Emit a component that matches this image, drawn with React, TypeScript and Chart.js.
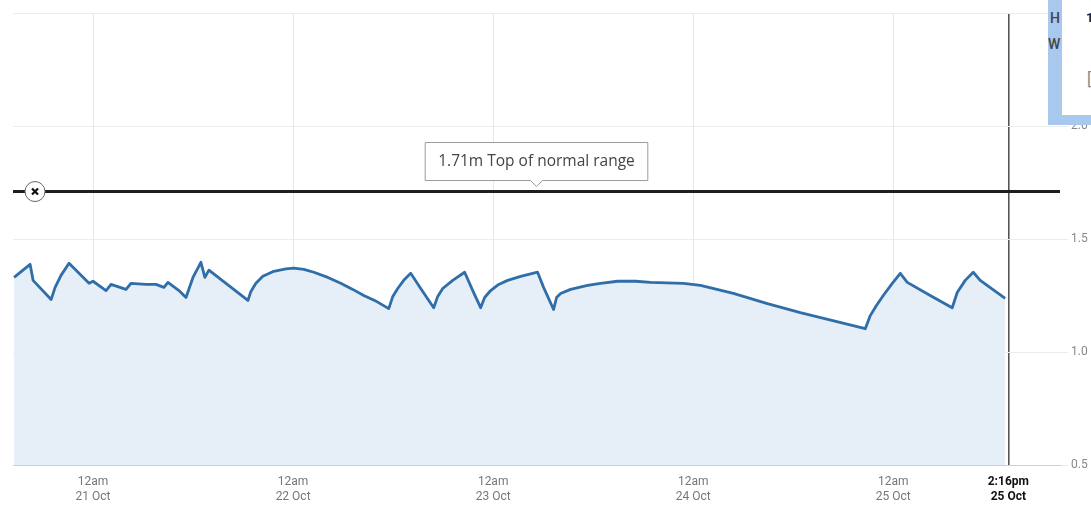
import React, { useEffect, useRef } from "react";
import { Chart, registerables } from "chart.js";

Chart.register(...registerables);

// Hours since 12am 20 Oct
const levelHours: number[] = [
  14.53, 16.45, 16.81, 18.97, 19.45, 20.16, 21.12, 23.52, 24.0, 25.56, 26.16, 27.96,
  28.55, 30.35, 31.55, 32.51, 32.99, 34.31, 35.15, 35.99, 36.94, 37.42, 37.9,
  42.58, 42.94, 43.54, 44.37, 45.69, 47.13, 48.09, 49.29, 50.49, 52.17, 53.72, 55.16,
  56.48, 58.04, 59.48, 59.96, 60.55, 61.27, 62.11, 63.31, 64.87, 65.35, 65.95, 67.15,
  68.58, 69.66, 70.5, 70.98, 71.7, 72.66, 73.74, 75.3, 77.33, 78.05, 79.25, 79.61,
  80.09, 81.29, 83.33, 84.88, 86.92, 89.08, 90.88, 94.83, 96.87, 100.82, 104.9, 108.85,
  116.64, 117.24, 117.96, 118.8, 119.88, 120.84, 121.68, 124.43, 127.07, 127.67, 128.63,
  129.59, 130.43, 133.42,
];
// River level (m)
const levelMetres: number[] = [
  1.33, 1.388, 1.317, 1.232, 1.286, 1.339, 1.393, 1.304, 1.313, 1.272, 1.299, 1.277,
  1.304, 1.299, 1.299, 1.286, 1.308, 1.272, 1.241, 1.33, 1.397, 1.33, 1.362,
  1.228, 1.268, 1.304, 1.335, 1.357, 1.368, 1.371, 1.366, 1.353, 1.33, 1.304, 1.277,
  1.25, 1.223, 1.192, 1.246, 1.281, 1.317, 1.348, 1.281, 1.196, 1.246, 1.281, 1.317,
  1.353, 1.263, 1.196, 1.241, 1.272, 1.299, 1.317, 1.335, 1.353, 1.286, 1.188, 1.241,
  1.259, 1.277, 1.295, 1.304, 1.313, 1.313, 1.308, 1.304, 1.295, 1.259, 1.214, 1.174,
  1.103, 1.161, 1.205, 1.25, 1.304, 1.348, 1.308, 1.25, 1.196, 1.263, 1.317,
  1.353, 1.317, 1.237,
];

const xTickHours: number[] = [24, 48, 72, 96, 120, 133.8];
const xTickLabels: string[][] = [
  ["12am", "21 Oct"],
  ["12am", "22 Oct"],
  ["12am", "23 Oct"],
  ["12am", "24 Oct"],
  ["12am", "25 Oct"],
  ["2:16pm", "25 Oct"],
];
const nowHour = 133.8;
const xMin = 14.4;
const xMax = 140;
const yTicks: number[] = [0.5, 1.0, 1.5, 2.0, 2.5];
const normalTop = 1.71;
const normalTopLabel = "1.71m Top of normal range";

const FONT = "Roboto, 'Noto Sans', sans-serif";
const LABEL_FONT = "'Open Sans', Roboto, sans-serif";

const thresholdPlugin = {
  id: "threshold",
  afterDatasetsDraw(chart: any) {
    const { ctx, chartArea, scales } = chart;
    const y = scales.y.getPixelForValue(normalTop);
    ctx.save();
    ctx.beginPath();
    ctx.moveTo(chartArea.left, y);
    ctx.lineTo(chartArea.right, y);
    ctx.lineWidth = 3;
    ctx.strokeStyle = "#1e1e1e";
    ctx.stroke();
    const cx = chartArea.left + 22;
    ctx.beginPath();
    ctx.arc(cx, y, 10, 0, Math.PI * 2);
    ctx.fillStyle = "#fff";
    ctx.fill();
    ctx.lineWidth = 1;
    ctx.strokeStyle = "#666";
    ctx.stroke();
    ctx.beginPath();
    ctx.moveTo(cx - 3, y - 3);
    ctx.lineTo(cx + 3, y + 3);
    ctx.moveTo(cx + 3, y - 3);
    ctx.lineTo(cx - 3, y + 3);
    ctx.lineWidth = 2.2;
    ctx.strokeStyle = "#111";
    ctx.stroke();
    ctx.font = "15.5px " + LABEL_FONT;
    const tw = ctx.measureText(normalTopLabel).width;
    const bw = tw + 26;
    const bh = 38;
    const mx = (chartArea.left + chartArea.right) / 2;
    const bottom = y - 11;
    const top = bottom - bh;
    const left = mx - bw / 2;
    ctx.beginPath();
    ctx.moveTo(left, top);
    ctx.lineTo(left + bw, top);
    ctx.lineTo(left + bw, bottom);
    ctx.lineTo(mx + 6, bottom);
    ctx.lineTo(mx, bottom + 6);
    ctx.lineTo(mx - 6, bottom);
    ctx.lineTo(left, bottom);
    ctx.closePath();
    ctx.fillStyle = "#fff";
    ctx.fill();
    ctx.lineWidth = 1;
    ctx.strokeStyle = "#9a9a9a";
    ctx.stroke();
    ctx.fillStyle = "#444";
    ctx.textAlign = "center";
    ctx.textBaseline = "middle";
    ctx.fillText(normalTopLabel, mx, (top + bottom) / 2);
    ctx.restore();
  },
};

export default function App() {
  const ref = useRef<HTMLCanvasElement | null>(null);
  useEffect(() => {
    if (!ref.current) return;
    const chart = new Chart(ref.current, {
      type: "line",
      data: {
        datasets: [
          {
            data: levelHours.map((h, i) => ({ x: h, y: levelMetres[i] })),
            borderColor: "#2f6ea9",
            borderWidth: 2.8,
            backgroundColor: "#e6eef7",
            fill: "start",
            pointRadius: 0,
            tension: 0,
            borderJoinStyle: "round",
          },
        ],
      },
      options: {
        animation: false,
        responsive: false,
        devicePixelRatio: 1,
        layout: { padding: { left: 13, top: 13, right: 0, bottom: 0 } },
        plugins: { legend: { display: false }, tooltip: { enabled: false } },
        scales: {
          x: {
            type: "linear",
            min: xMin,
            max: xMax,
            afterBuildTicks: (scale: any) => {
              scale.ticks = xTickHours.map((v) => ({ value: v }));
            },
            afterFit: (scale: any) => {
              scale.height = 41;
            },
            grid: {
              color: (c: any) => (c.tick && c.tick.value === nowHour ? "#555" : "#e8e8e8"),
              lineWidth: (c: any) => (c.tick && c.tick.value === nowHour ? 1.6 : 1),
              drawTicks: false,
            },
            border: { color: "#cfcfcf", width: 1 },
            ticks: {
              autoSkip: false,
              maxRotation: 0,
              padding: 9,
              color: (c: any) => (c.tick && c.tick.value === nowHour ? "#111" : "#777"),
              font: (c: any) => ({
                family: FONT,
                size: 12,
                weight: c.tick && c.tick.value === nowHour ? "bold" : "normal",
                lineHeight: 1.25,
              }),
              callback: (v: any) => {
                const i = xTickHours.indexOf(Number(v));
                return i >= 0 ? xTickLabels[i] : "";
              },
            },
          },
          y: {
            position: "right",
            min: 0.5,
            max: 2.5,
            afterBuildTicks: (scale: any) => {
              scale.ticks = yTicks.map((v) => ({ value: v }));
            },
            afterFit: (scale: any) => {
              scale.width = 40;
            },
            grid: { color: "#ececec", tickLength: 8 },
            border: { display: false },
            ticks: {
              padding: 3,
              color: "#888",
              font: { family: FONT, size: 12 },
              callback: (v: any) => Number(v).toFixed(1),
            },
          },
        },
      },
      plugins: [thresholdPlugin],
    });
    return () => chart.destroy();
  }, []);

  return (
    <div
      style={{
        position: "fixed",
        left: 0,
        top: 0,
        width: 1091,
        height: 506,
        overflow: "hidden",
        background: "#fff",
      }}
    >
      <canvas ref={ref} width={1100} height={506} style={{ display: "block" }} />
      <div
        style={{
          position: "absolute",
          left: 1048,
          top: 0,
          width: 60,
          height: 125,
          background: "#a9c8ee",
          fontFamily: FONT,
        }}
      >
        <div style={{ position: "absolute", left: 2, top: 10, fontSize: 14, color: "#444", fontWeight: 500 }}>H</div>
        <div style={{ position: "absolute", left: 0, top: 36, fontSize: 14, color: "#444", fontWeight: 500 }}>W</div>
        <div
          style={{
            position: "absolute",
            left: 14,
            top: 0,
            width: 46,
            height: 115,
            background: "#fff",
          }}
        >
          <div style={{ position: "absolute", left: 24, top: 10, fontSize: 13, color: "#222", fontWeight: 700 }}>1</div>
          <div style={{ position: "absolute", left: 25, top: 70, fontSize: 16, color: "#888" }}>[</div>
        </div>
      </div>
    </div>
  );
}
